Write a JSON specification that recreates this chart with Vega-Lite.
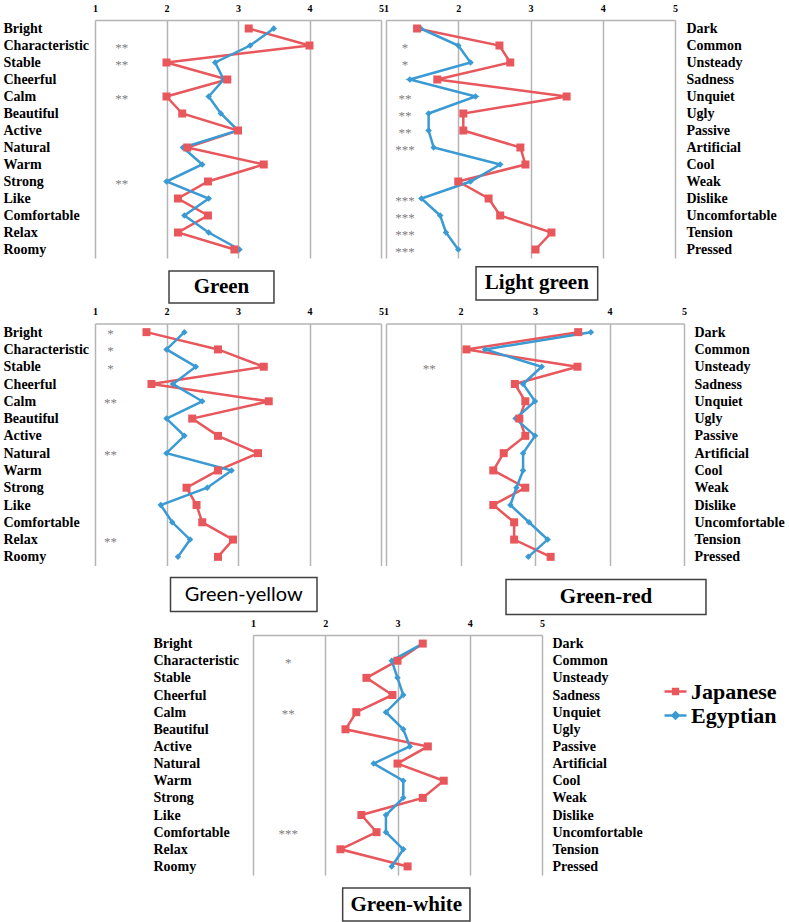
{
"$schema": "https://vega.github.io/schema/vega-lite/v6.json",
"background": "white",
"padding": {"top": 3, "left": 3, "right": 2, "bottom": 2},
"config": {
  "view": {"stroke": null},
  "font": "Liberation Serif",
  "text": {"font": "Liberation Serif"}
},
"datasets": {
  "d": [
    {"p":"Green","k":1,"pos":"Bright","neg":"Dark","Japanese":3.15,"Egyptian":3.5,"sig":""},
    {"p":"Green","k":2,"pos":"Characteristic","neg":"Common","Japanese":4.0,"Egyptian":3.17,"sig":"**"},
    {"p":"Green","k":3,"pos":"Stable","neg":"Unsteady","Japanese":2.0,"Egyptian":2.68,"sig":"**"},
    {"p":"Green","k":4,"pos":"Cheerful","neg":"Sadness","Japanese":2.85,"Egyptian":2.8,"sig":""},
    {"p":"Green","k":5,"pos":"Calm","neg":"Unquiet","Japanese":2.0,"Egyptian":2.59,"sig":"**"},
    {"p":"Green","k":6,"pos":"Beautiful","neg":"Ugly","Japanese":2.22,"Egyptian":2.76,"sig":""},
    {"p":"Green","k":7,"pos":"Active","neg":"Passive","Japanese":3.0,"Egyptian":3.0,"sig":""},
    {"p":"Green","k":8,"pos":"Natural","neg":"Artificial","Japanese":2.29,"Egyptian":2.23,"sig":""},
    {"p":"Green","k":9,"pos":"Warm","neg":"Cool","Japanese":3.36,"Egyptian":2.5,"sig":""},
    {"p":"Green","k":10,"pos":"Strong","neg":"Weak","Japanese":2.58,"Egyptian":2.0,"sig":"**"},
    {"p":"Green","k":11,"pos":"Like","neg":"Dislike","Japanese":2.16,"Egyptian":2.59,"sig":""},
    {"p":"Green","k":12,"pos":"Comfortable","neg":"Uncomfortable","Japanese":2.58,"Egyptian":2.25,"sig":""},
    {"p":"Green","k":13,"pos":"Relax","neg":"Tension","Japanese":2.16,"Egyptian":2.59,"sig":""},
    {"p":"Green","k":14,"pos":"Roomy","neg":"Pressed","Japanese":2.95,"Egyptian":3.02,"sig":""},
    {"p":"Light green","k":1,"pos":"Bright","neg":"Dark","Japanese":1.43,"Egyptian":1.48,"sig":""},
    {"p":"Light green","k":2,"pos":"Characteristic","neg":"Common","Japanese":2.57,"Egyptian":2.0,"sig":"*"},
    {"p":"Light green","k":3,"pos":"Stable","neg":"Unsteady","Japanese":2.72,"Egyptian":2.17,"sig":"*"},
    {"p":"Light green","k":4,"pos":"Cheerful","neg":"Sadness","Japanese":1.71,"Egyptian":1.33,"sig":""},
    {"p":"Light green","k":5,"pos":"Calm","neg":"Unquiet","Japanese":3.5,"Egyptian":2.24,"sig":"**"},
    {"p":"Light green","k":6,"pos":"Beautiful","neg":"Ugly","Japanese":2.07,"Egyptian":1.59,"sig":"**"},
    {"p":"Light green","k":7,"pos":"Active","neg":"Passive","Japanese":2.07,"Egyptian":1.59,"sig":"**"},
    {"p":"Light green","k":8,"pos":"Natural","neg":"Artificial","Japanese":2.86,"Egyptian":1.66,"sig":"***"},
    {"p":"Light green","k":9,"pos":"Warm","neg":"Cool","Japanese":2.93,"Egyptian":2.58,"sig":""},
    {"p":"Light green","k":10,"pos":"Strong","neg":"Weak","Japanese":2.0,"Egyptian":2.17,"sig":""},
    {"p":"Light green","k":11,"pos":"Like","neg":"Dislike","Japanese":2.42,"Egyptian":1.49,"sig":"***"},
    {"p":"Light green","k":12,"pos":"Comfortable","neg":"Uncomfortable","Japanese":2.58,"Egyptian":1.75,"sig":"***"},
    {"p":"Light green","k":13,"pos":"Relax","neg":"Tension","Japanese":3.29,"Egyptian":1.83,"sig":"***"},
    {"p":"Light green","k":14,"pos":"Roomy","neg":"Pressed","Japanese":3.07,"Egyptian":2.0,"sig":"***"},
    {"p":"Green-yellow","k":1,"pos":"Bright","neg":"Dark","Japanese":1.72,"Egyptian":2.25,"sig":"*"},
    {"p":"Green-yellow","k":2,"pos":"Characteristic","neg":"Common","Japanese":2.72,"Egyptian":2.0,"sig":"*"},
    {"p":"Green-yellow","k":3,"pos":"Stable","neg":"Unsteady","Japanese":3.36,"Egyptian":2.41,"sig":"*"},
    {"p":"Green-yellow","k":4,"pos":"Cheerful","neg":"Sadness","Japanese":1.79,"Egyptian":2.09,"sig":""},
    {"p":"Green-yellow","k":5,"pos":"Calm","neg":"Unquiet","Japanese":3.43,"Egyptian":2.5,"sig":"**"},
    {"p":"Green-yellow","k":6,"pos":"Beautiful","neg":"Ugly","Japanese":2.36,"Egyptian":2.0,"sig":""},
    {"p":"Green-yellow","k":7,"pos":"Active","neg":"Passive","Japanese":2.72,"Egyptian":2.25,"sig":""},
    {"p":"Green-yellow","k":8,"pos":"Natural","neg":"Artificial","Japanese":3.28,"Egyptian":2.0,"sig":"**"},
    {"p":"Green-yellow","k":9,"pos":"Warm","neg":"Cool","Japanese":2.72,"Egyptian":2.91,"sig":""},
    {"p":"Green-yellow","k":10,"pos":"Strong","neg":"Weak","Japanese":2.28,"Egyptian":2.57,"sig":""},
    {"p":"Green-yellow","k":11,"pos":"Like","neg":"Dislike","Japanese":2.42,"Egyptian":1.92,"sig":""},
    {"p":"Green-yellow","k":12,"pos":"Comfortable","neg":"Uncomfortable","Japanese":2.5,"Egyptian":2.08,"sig":""},
    {"p":"Green-yellow","k":13,"pos":"Relax","neg":"Tension","Japanese":2.93,"Egyptian":2.33,"sig":"**"},
    {"p":"Green-yellow","k":14,"pos":"Roomy","neg":"Pressed","Japanese":2.72,"Egyptian":2.16,"sig":""},
    {"p":"Green-red","k":1,"pos":"Bright","neg":"Dark","Japanese":3.58,"Egyptian":3.75,"sig":""},
    {"p":"Green-red","k":2,"pos":"Characteristic","neg":"Common","Japanese":2.08,"Egyptian":2.33,"sig":""},
    {"p":"Green-red","k":3,"pos":"Stable","neg":"Unsteady","Japanese":3.57,"Egyptian":3.09,"sig":"**"},
    {"p":"Green-red","k":4,"pos":"Cheerful","neg":"Sadness","Japanese":2.73,"Egyptian":2.84,"sig":""},
    {"p":"Green-red","k":5,"pos":"Calm","neg":"Unquiet","Japanese":2.87,"Egyptian":3.0,"sig":""},
    {"p":"Green-red","k":6,"pos":"Beautiful","neg":"Ugly","Japanese":2.79,"Egyptian":2.74,"sig":""},
    {"p":"Green-red","k":7,"pos":"Active","neg":"Passive","Japanese":2.87,"Egyptian":3.0,"sig":""},
    {"p":"Green-red","k":8,"pos":"Natural","neg":"Artificial","Japanese":2.58,"Egyptian":2.84,"sig":""},
    {"p":"Green-red","k":9,"pos":"Warm","neg":"Cool","Japanese":2.44,"Egyptian":2.84,"sig":""},
    {"p":"Green-red","k":10,"pos":"Strong","neg":"Weak","Japanese":2.87,"Egyptian":2.75,"sig":""},
    {"p":"Green-red","k":11,"pos":"Like","neg":"Dislike","Japanese":2.44,"Egyptian":2.67,"sig":""},
    {"p":"Green-red","k":12,"pos":"Comfortable","neg":"Uncomfortable","Japanese":2.72,"Egyptian":2.92,"sig":""},
    {"p":"Green-red","k":13,"pos":"Relax","neg":"Tension","Japanese":2.72,"Egyptian":3.17,"sig":""},
    {"p":"Green-red","k":14,"pos":"Roomy","neg":"Pressed","Japanese":3.21,"Egyptian":2.91,"sig":""},
    {"p":"Green-white","k":1,"pos":"Bright","neg":"Dark","Japanese":3.35,"Egyptian":3.35,"sig":""},
    {"p":"Green-white","k":2,"pos":"Characteristic","neg":"Common","Japanese":3.0,"Egyptian":2.92,"sig":"*"},
    {"p":"Green-white","k":3,"pos":"Stable","neg":"Unsteady","Japanese":2.57,"Egyptian":3.0,"sig":""},
    {"p":"Green-white","k":4,"pos":"Cheerful","neg":"Sadness","Japanese":2.93,"Egyptian":3.08,"sig":""},
    {"p":"Green-white","k":5,"pos":"Calm","neg":"Unquiet","Japanese":2.43,"Egyptian":2.84,"sig":"**"},
    {"p":"Green-white","k":6,"pos":"Beautiful","neg":"Ugly","Japanese":2.28,"Egyptian":3.08,"sig":""},
    {"p":"Green-white","k":7,"pos":"Active","neg":"Passive","Japanese":3.42,"Egyptian":3.17,"sig":""},
    {"p":"Green-white","k":8,"pos":"Natural","neg":"Artificial","Japanese":3.0,"Egyptian":2.67,"sig":""},
    {"p":"Green-white","k":9,"pos":"Warm","neg":"Cool","Japanese":3.64,"Egyptian":3.08,"sig":""},
    {"p":"Green-white","k":10,"pos":"Strong","neg":"Weak","Japanese":3.35,"Egyptian":3.08,"sig":""},
    {"p":"Green-white","k":11,"pos":"Like","neg":"Dislike","Japanese":2.5,"Egyptian":2.84,"sig":""},
    {"p":"Green-white","k":12,"pos":"Comfortable","neg":"Uncomfortable","Japanese":2.71,"Egyptian":2.84,"sig":"***"},
    {"p":"Green-white","k":13,"pos":"Relax","neg":"Tension","Japanese":2.21,"Egyptian":3.08,"sig":""},
    {"p":"Green-white","k":14,"pos":"Roomy","neg":"Pressed","Japanese":3.14,"Egyptian":2.92,"sig":""}
  ]
},
"spacing": 2.5,
"resolve": {"scale": {"color": "independent"}, "legend": {"color": "independent"}},
"vconcat": [
 {
  "spacing": -1,
  "resolve": {"scale": {"color": "independent"}, "legend": {"color": "independent"}},
  "hconcat": [
  {
    "width": 286, "height": 238,
    "data": {"name": "d"},
    "transform": [{"filter": "datum.p === 'Green'"}, {"fold": ["Japanese", "Egyptian"], "as": ["s", "v"]}],
    "resolve": {"scale": {"y": "independent"}},
    "layer": [
      {"mark": {"type": "line", "strokeWidth": 2.5},
       "encoding": {
         "x": {"field": "v", "type": "quantitative", "scale": {"domain": [1, 5], "nice": false, "zero": false},
               "axis": {"orient": "top", "values": [1, 2, 3, 4, 5], "title": null, "format": "d", "grid": true, "gridColor": "#b4b4b4", "gridWidth": 1.5, "domainColor": "#b4b4b4", "domainWidth": 1.5, "ticks": false, "labelFont": "Liberation Serif", "labelFontSize": 10, "labelFontWeight": "bold", "labelColor": "#000", "labelPadding": 7, "labelFlush": false, "labelOverlap": false}},
         "y": {"field": "pos", "type": "nominal", "scale": {"domain": ["Bright","Characteristic","Stable","Cheerful","Calm","Beautiful","Active","Natural","Warm","Strong","Like","Comfortable","Relax","Roomy"]},
               "axis": {"orient": "left", "title": null, "labelPadding": 92, "labelAlign": "left", "labelBaseline": "middle", "domain": false, "ticks": false, "grid": false, "labelFont": "Liberation Serif", "labelFontSize": 14, "labelFontWeight": "bold", "labelColor": "#000"}},
         "color": {"field": "s", "type": "nominal", "scale": {"domain": ["Japanese", "Egyptian"], "range": ["#E8575C", "#3A9AD3"]}, "legend": null},
         "order": {"field": "k", "type": "quantitative"}}},
      {"transform": [{"filter": "datum.s === 'Egyptian'"}],
       "mark": {"type": "point", "shape": "diamond", "filled": true, "opacity": 1, "size": 42, "color": "#3A9AD3"},
       "encoding": {"x": {"field": "v", "type": "quantitative"}, "y": {"field": "pos", "type": "nominal", "scale": {"domain": ["Bright","Characteristic","Stable","Cheerful","Calm","Beautiful","Active","Natural","Warm","Strong","Like","Comfortable","Relax","Roomy"]}, "axis": null}}},
      {"transform": [{"filter": "datum.s === 'Japanese'"}],
       "mark": {"type": "point", "shape": "square", "filled": true, "opacity": 1, "size": 64, "color": "#E8575C"},
       "encoding": {"x": {"field": "v", "type": "quantitative"}, "y": {"field": "pos", "type": "nominal", "scale": {"domain": ["Bright","Characteristic","Stable","Cheerful","Calm","Beautiful","Active","Natural","Warm","Strong","Like","Comfortable","Relax","Roomy"]}, "axis": null}}},
      {"transform": [{"filter": "datum.s === 'Japanese' && datum.sig !== ''"}],
       "mark": {"type": "text", "fontSize": 13, "color": "#808080", "dy": 2},
       "encoding": {"x": {"datum": 1.373, "type": "quantitative"}, "y": {"field": "pos", "type": "nominal", "scale": {"domain": ["Bright","Characteristic","Stable","Cheerful","Calm","Beautiful","Active","Natural","Warm","Strong","Like","Comfortable","Relax","Roomy"]}, "axis": null}, "text": {"field": "sig"}}},
      {"data": {"values": [{"t": "Green"}]},
       "mark": {"type": "rect", "fill": "white", "stroke": "#404040", "strokeWidth": 1.5},
       "encoding": {"x": {"datum": 2.035, "type": "quantitative"}, "x2": {"datum": 3.503}, "y": {"datum": -0.0546, "type": "quantitative", "scale": {"domain": [0, 1]}, "axis": null}, "y2": {"datum": -0.189}}},
      {"data": {"values": [{"t": "Green"}]},
       "mark": {"type": "text", "fontSize": 21, "fontWeight": "bold", "color": "#000"},
       "encoding": {"x": {"datum": 2.769, "type": "quantitative"}, "y": {"datum": -0.1218, "type": "quantitative", "scale": {"domain": [0, 1]}, "axis": null}, "text": {"field": "t"}}}
    ]
  },
  {
    "width": 289, "height": 238,
    "data": {"name": "d"},
    "transform": [{"filter": "datum.p === 'Light green'"}, {"fold": ["Japanese", "Egyptian"], "as": ["s", "v"]}],
    "resolve": {"scale": {"y": "independent"}},
    "layer": [
      {"mark": {"type": "line", "strokeWidth": 2.5},
       "encoding": {
         "x": {"field": "v", "type": "quantitative", "scale": {"domain": [1, 5], "nice": false, "zero": false},
               "axis": {"orient": "top", "values": [1, 2, 3, 4, 5], "title": null, "format": "d", "grid": true, "gridColor": "#b4b4b4", "gridWidth": 1.5, "domainColor": "#b4b4b4", "domainWidth": 1.5, "ticks": false, "labelFont": "Liberation Serif", "labelFontSize": 10, "labelFontWeight": "bold", "labelColor": "#000", "labelPadding": 7, "labelFlush": false, "labelOverlap": false}},
         "y": {"field": "neg", "type": "nominal", "scale": {"domain": ["Dark","Common","Unsteady","Sadness","Unquiet","Ugly","Passive","Artificial","Cool","Weak","Dislike","Uncomfortable","Tension","Pressed"]},
               "axis": {"orient": "right", "title": null, "labelPadding": 11, "labelAlign": "left", "labelBaseline": "middle", "domain": false, "ticks": false, "grid": false, "labelFont": "Liberation Serif", "labelFontSize": 14, "labelFontWeight": "bold", "labelColor": "#000"}},
         "color": {"field": "s", "type": "nominal", "scale": {"domain": ["Japanese", "Egyptian"], "range": ["#E8575C", "#3A9AD3"]}, "legend": null},
         "order": {"field": "k", "type": "quantitative"}}},
      {"transform": [{"filter": "datum.s === 'Egyptian'"}],
       "mark": {"type": "point", "shape": "diamond", "filled": true, "opacity": 1, "size": 42, "color": "#3A9AD3"},
       "encoding": {"x": {"field": "v", "type": "quantitative"}, "y": {"field": "neg", "type": "nominal", "scale": {"domain": ["Dark","Common","Unsteady","Sadness","Unquiet","Ugly","Passive","Artificial","Cool","Weak","Dislike","Uncomfortable","Tension","Pressed"]}, "axis": null}}},
      {"transform": [{"filter": "datum.s === 'Japanese'"}],
       "mark": {"type": "point", "shape": "square", "filled": true, "opacity": 1, "size": 64, "color": "#E8575C"},
       "encoding": {"x": {"field": "v", "type": "quantitative"}, "y": {"field": "neg", "type": "nominal", "scale": {"domain": ["Dark","Common","Unsteady","Sadness","Unquiet","Ugly","Passive","Artificial","Cool","Weak","Dislike","Uncomfortable","Tension","Pressed"]}, "axis": null}}},
      {"transform": [{"filter": "datum.s === 'Japanese' && datum.sig !== ''"}],
       "mark": {"type": "text", "fontSize": 13, "color": "#808080", "dy": 2},
       "encoding": {"x": {"datum": 1.263, "type": "quantitative"}, "y": {"field": "neg", "type": "nominal", "scale": {"domain": ["Dark","Common","Unsteady","Sadness","Unquiet","Ugly","Passive","Artificial","Cool","Weak","Dislike","Uncomfortable","Tension","Pressed"]}, "axis": null}, "text": {"field": "sig"}}},
      {"data": {"values": [{"t": "Light green"}]},
       "mark": {"type": "rect", "fill": "white", "stroke": "#404040", "strokeWidth": 1.5},
       "encoding": {"x": {"datum": 2.246, "type": "quantitative"}, "x2": {"datum": 3.93}, "y": {"datum": -0.0366, "type": "quantitative", "scale": {"domain": [0, 1]}, "axis": null}, "y2": {"datum": -0.1765}}},
      {"data": {"values": [{"t": "Light green"}]},
       "mark": {"type": "text", "fontSize": 21, "fontWeight": "bold", "color": "#000"},
       "encoding": {"x": {"datum": 3.088, "type": "quantitative"}, "y": {"datum": -0.1065, "type": "quantitative", "scale": {"domain": [0, 1]}, "axis": null}, "text": {"field": "t"}}}
    ]
  }
  ]
 },
 {
  "spacing": -1,
  "resolve": {"scale": {"color": "independent"}, "legend": {"color": "independent"}},
  "hconcat": [
  {
    "width": 286, "height": 242,
    "data": {"name": "d"},
    "transform": [{"filter": "datum.p === 'Green-yellow'"}, {"fold": ["Japanese", "Egyptian"], "as": ["s", "v"]}],
    "resolve": {"scale": {"y": "independent"}},
    "layer": [
      {"mark": {"type": "line", "strokeWidth": 2.5},
       "encoding": {
         "x": {"field": "v", "type": "quantitative", "scale": {"domain": [1, 5], "nice": false, "zero": false},
               "axis": {"orient": "top", "values": [1, 2, 3, 4, 5], "title": null, "format": "d", "grid": true, "gridColor": "#b4b4b4", "gridWidth": 1.5, "domainColor": "#b4b4b4", "domainWidth": 1.5, "ticks": false, "labelFont": "Liberation Serif", "labelFontSize": 10, "labelFontWeight": "bold", "labelColor": "#000", "labelPadding": 7, "labelFlush": false, "labelOverlap": false}},
         "y": {"field": "pos", "type": "nominal", "scale": {"domain": ["Bright","Characteristic","Stable","Cheerful","Calm","Beautiful","Active","Natural","Warm","Strong","Like","Comfortable","Relax","Roomy"]},
               "axis": {"orient": "left", "title": null, "labelPadding": 92, "labelAlign": "left", "labelBaseline": "middle", "domain": false, "ticks": false, "grid": false, "labelFont": "Liberation Serif", "labelFontSize": 14, "labelFontWeight": "bold", "labelColor": "#000"}},
         "color": {"field": "s", "type": "nominal", "scale": {"domain": ["Japanese", "Egyptian"], "range": ["#E8575C", "#3A9AD3"]}, "legend": null},
         "order": {"field": "k", "type": "quantitative"}}},
      {"transform": [{"filter": "datum.s === 'Egyptian'"}],
       "mark": {"type": "point", "shape": "diamond", "filled": true, "opacity": 1, "size": 42, "color": "#3A9AD3"},
       "encoding": {"x": {"field": "v", "type": "quantitative"}, "y": {"field": "pos", "type": "nominal", "scale": {"domain": ["Bright","Characteristic","Stable","Cheerful","Calm","Beautiful","Active","Natural","Warm","Strong","Like","Comfortable","Relax","Roomy"]}, "axis": null}}},
      {"transform": [{"filter": "datum.s === 'Japanese'"}],
       "mark": {"type": "point", "shape": "square", "filled": true, "opacity": 1, "size": 64, "color": "#E8575C"},
       "encoding": {"x": {"field": "v", "type": "quantitative"}, "y": {"field": "pos", "type": "nominal", "scale": {"domain": ["Bright","Characteristic","Stable","Cheerful","Calm","Beautiful","Active","Natural","Warm","Strong","Like","Comfortable","Relax","Roomy"]}, "axis": null}}},
      {"transform": [{"filter": "datum.s === 'Japanese' && datum.sig !== ''"}],
       "mark": {"type": "text", "fontSize": 13, "color": "#808080", "dy": 2},
       "encoding": {"x": {"datum": 1.217, "type": "quantitative"}, "y": {"field": "pos", "type": "nominal", "scale": {"domain": ["Bright","Characteristic","Stable","Cheerful","Calm","Beautiful","Active","Natural","Warm","Strong","Like","Comfortable","Relax","Roomy"]}, "axis": null}, "text": {"field": "sig"}}},
      {"data": {"values": [{"t": "Green-yellow"}]},
       "mark": {"type": "rect", "fill": "white", "stroke": "#404040", "strokeWidth": 1.5},
       "encoding": {"x": {"datum": 2.056, "type": "quantitative"}, "x2": {"datum": 4.105}, "y": {"datum": -0.0496, "type": "quantitative", "scale": {"domain": [0, 1]}, "axis": null}, "y2": {"datum": -0.19}}},
      {"data": {"values": [{"t": "Green-yellow"}]},
       "mark": {"type": "text", "fontSize": 20, "font": "Lato", "color": "#000"},
       "encoding": {"x": {"datum": 3.08, "type": "quantitative"}, "y": {"datum": -0.12, "type": "quantitative", "scale": {"domain": [0, 1]}, "axis": null}, "text": {"field": "t"}}}
    ]
  },
  {
    "width": 298, "height": 242,
    "data": {"name": "d"},
    "transform": [{"filter": "datum.p === 'Green-red'"}, {"fold": ["Japanese", "Egyptian"], "as": ["s", "v"]}],
    "resolve": {"scale": {"y": "independent"}},
    "layer": [
      {"mark": {"type": "line", "strokeWidth": 2.5},
       "encoding": {
         "x": {"field": "v", "type": "quantitative", "scale": {"domain": [1, 5], "nice": false, "zero": false},
               "axis": {"orient": "top", "values": [1, 2, 3, 4, 5], "title": null, "format": "d", "grid": true, "gridColor": "#b4b4b4", "gridWidth": 1.5, "domainColor": "#b4b4b4", "domainWidth": 1.5, "ticks": false, "labelFont": "Liberation Serif", "labelFontSize": 10, "labelFontWeight": "bold", "labelColor": "#000", "labelPadding": 7, "labelFlush": false, "labelOverlap": false}},
         "y": {"field": "neg", "type": "nominal", "scale": {"domain": ["Dark","Common","Unsteady","Sadness","Unquiet","Ugly","Passive","Artificial","Cool","Weak","Dislike","Uncomfortable","Tension","Pressed"]},
               "axis": {"orient": "right", "title": null, "labelPadding": 10, "labelAlign": "left", "labelBaseline": "middle", "domain": false, "ticks": false, "grid": false, "labelFont": "Liberation Serif", "labelFontSize": 14, "labelFontWeight": "bold", "labelColor": "#000"}},
         "color": {"field": "s", "type": "nominal", "scale": {"domain": ["Japanese", "Egyptian"], "range": ["#E8575C", "#3A9AD3"]}, "legend": null},
         "order": {"field": "k", "type": "quantitative"}}},
      {"transform": [{"filter": "datum.s === 'Egyptian'"}],
       "mark": {"type": "point", "shape": "diamond", "filled": true, "opacity": 1, "size": 42, "color": "#3A9AD3"},
       "encoding": {"x": {"field": "v", "type": "quantitative"}, "y": {"field": "neg", "type": "nominal", "scale": {"domain": ["Dark","Common","Unsteady","Sadness","Unquiet","Ugly","Passive","Artificial","Cool","Weak","Dislike","Uncomfortable","Tension","Pressed"]}, "axis": null}}},
      {"transform": [{"filter": "datum.s === 'Japanese'"}],
       "mark": {"type": "point", "shape": "square", "filled": true, "opacity": 1, "size": 64, "color": "#E8575C"},
       "encoding": {"x": {"field": "v", "type": "quantitative"}, "y": {"field": "neg", "type": "nominal", "scale": {"domain": ["Dark","Common","Unsteady","Sadness","Unquiet","Ugly","Passive","Artificial","Cool","Weak","Dislike","Uncomfortable","Tension","Pressed"]}, "axis": null}}},
      {"transform": [{"filter": "datum.s === 'Japanese' && datum.sig !== ''"}],
       "mark": {"type": "text", "fontSize": 13, "color": "#808080", "dy": 2},
       "encoding": {"x": {"datum": 1.58, "type": "quantitative"}, "y": {"field": "neg", "type": "nominal", "scale": {"domain": ["Dark","Common","Unsteady","Sadness","Unquiet","Ugly","Passive","Artificial","Cool","Weak","Dislike","Uncomfortable","Tension","Pressed"]}, "axis": null}, "text": {"field": "sig"}}},
      {"data": {"values": [{"t": "Green-red"}]},
       "mark": {"type": "rect", "fill": "white", "stroke": "#404040", "strokeWidth": 1.5},
       "encoding": {"x": {"datum": 2.611, "type": "quantitative"}, "x2": {"datum": 5.295}, "y": {"datum": -0.0579, "type": "quantitative", "scale": {"domain": [0, 1]}, "axis": null}, "y2": {"datum": -0.2025}}},
      {"data": {"values": [{"t": "Green-red"}]},
       "mark": {"type": "text", "fontSize": 21, "fontWeight": "bold", "color": "#000"},
       "encoding": {"x": {"datum": 3.953, "type": "quantitative"}, "y": {"datum": -0.13, "type": "quantitative", "scale": {"domain": [0, 1]}, "axis": null}, "text": {"field": "t"}}}
    ]
  }
  ]
 },
 {
  "spacing": 0,
  "resolve": {"scale": {"color": "independent"}, "legend": {"color": "independent"}},
  "hconcat": [
  {
    "width": 58, "height": 10,
    "data": {"values": [{"t": ""}]},
    "mark": {"type": "text"},
    "encoding": {"text": {"field": "t"}}
  },
  {
    "width": 289, "height": 240,
    "data": {"name": "d"},
    "transform": [{"filter": "datum.p === 'Green-white'"}, {"fold": ["Japanese", "Egyptian"], "as": ["s", "v"]}],
    "resolve": {"scale": {"y": "independent"}},
    "layer": [
      {"mark": {"type": "line", "strokeWidth": 2.5},
       "encoding": {
         "x": {"field": "v", "type": "quantitative", "scale": {"domain": [1, 5], "nice": false, "zero": false},
               "axis": {"orient": "top", "values": [1, 2, 3, 4, 5], "title": null, "format": "d", "grid": true, "gridColor": "#b4b4b4", "gridWidth": 1.5, "domainColor": "#b4b4b4", "domainWidth": 1.5, "ticks": false, "labelFont": "Liberation Serif", "labelFontSize": 10, "labelFontWeight": "bold", "labelColor": "#000", "labelPadding": 7, "labelFlush": false, "labelOverlap": false}},
         "y": {"field": "pos", "type": "nominal", "scale": {"domain": ["Bright","Characteristic","Stable","Cheerful","Calm","Beautiful","Active","Natural","Warm","Strong","Like","Comfortable","Relax","Roomy"]},
               "axis": {"orient": "left", "title": null, "labelPadding": 100, "labelAlign": "left", "labelBaseline": "middle", "domain": false, "ticks": false, "grid": false, "labelFont": "Liberation Serif", "labelFontSize": 14, "labelFontWeight": "bold", "labelColor": "#000"}},
         "color": {"field": "s", "type": "nominal", "scale": {"domain": ["Japanese", "Egyptian"], "range": ["#E8575C", "#3A9AD3"]},
           "legend": {"title": null, "orient": "none", "legendX": 410, "legendY": 44, "padding": 0,
             "labelFont": "Liberation Serif", "labelFontSize": 22, "labelFontWeight": "bold", "labelColor": "#000",
             "symbolSize": 484, "symbolStrokeWidth": 2.5, "rowPadding": -1, "labelOffset": 3,
             "encode": {"symbols": {"update": {
               "shape": {"signal": "datum.value === 'Japanese' ? 'M-1,0H1M-0.22,-0.22H0.22V0.22H-0.22Z' : 'M-1,0H1M0,-0.28L0.28,0L0,0.28L-0.28,0Z'"},
               "fill": {"signal": "datum.value === 'Japanese' ? '#E8575C' : '#3A9AD3'"},
               "stroke": {"signal": "datum.value === 'Japanese' ? '#E8575C' : '#3A9AD3'"},
               "opacity": {"value": 1}}}}}},
         "order": {"field": "k", "type": "quantitative"}}},
      {"transform": [{"filter": "datum.s === 'Japanese' && datum.sig !== ''"}],
       "mark": {"type": "text", "fontSize": 13, "color": "#808080", "dy": 2},
       "encoding": {"x": {"datum": 1.489, "type": "quantitative"}, "y": {"field": "pos", "type": "nominal", "scale": {"domain": ["Bright","Characteristic","Stable","Cheerful","Calm","Beautiful","Active","Natural","Warm","Strong","Like","Comfortable","Relax","Roomy"]}, "axis": null}, "text": {"field": "sig"}}},
      {"transform": [{"filter": "datum.s === 'Egyptian'"}],
       "mark": {"type": "point", "shape": "diamond", "filled": true, "opacity": 1, "size": 42, "color": "#3A9AD3"},
       "encoding": {"x": {"field": "v", "type": "quantitative"},
         "y": {"field": "neg", "type": "nominal", "scale": {"domain": ["Dark","Common","Unsteady","Sadness","Unquiet","Ugly","Passive","Artificial","Cool","Weak","Dislike","Uncomfortable","Tension","Pressed"]},
               "axis": {"orient": "right", "title": null, "labelPadding": 10, "labelAlign": "left", "labelBaseline": "middle", "domain": false, "ticks": false, "grid": false, "labelFont": "Liberation Serif", "labelFontSize": 14, "labelFontWeight": "bold", "labelColor": "#000"}}}},
      {"transform": [{"filter": "datum.s === 'Japanese'"}],
       "mark": {"type": "point", "shape": "square", "filled": true, "opacity": 1, "size": 64, "color": "#E8575C"},
       "encoding": {"x": {"field": "v", "type": "quantitative"}, "y": {"field": "neg", "type": "nominal", "scale": {"domain": ["Dark","Common","Unsteady","Sadness","Unquiet","Ugly","Passive","Artificial","Cool","Weak","Dislike","Uncomfortable","Tension","Pressed"]}, "axis": null}}},
      {"data": {"values": [{"t": "Green-white"}]},
       "mark": {"type": "rect", "fill": "white", "stroke": "#404040", "strokeWidth": 1.5},
       "encoding": {"x": {"datum": 2.241, "type": "quantitative"}, "x2": {"datum": 4.003}, "y": {"datum": -0.0542, "type": "quantitative", "scale": {"domain": [0, 1]}, "axis": null}, "y2": {"datum": -0.1917}}},
      {"data": {"values": [{"t": "Green-white"}]},
       "mark": {"type": "text", "fontSize": 21, "fontWeight": "bold", "color": "#000"},
       "encoding": {"x": {"datum": 3.122, "type": "quantitative"}, "y": {"datum": -0.123, "type": "quantitative", "scale": {"domain": [0, 1]}, "axis": null}, "text": {"field": "t"}}}
    ]
  }
  ]
 }
]
}
